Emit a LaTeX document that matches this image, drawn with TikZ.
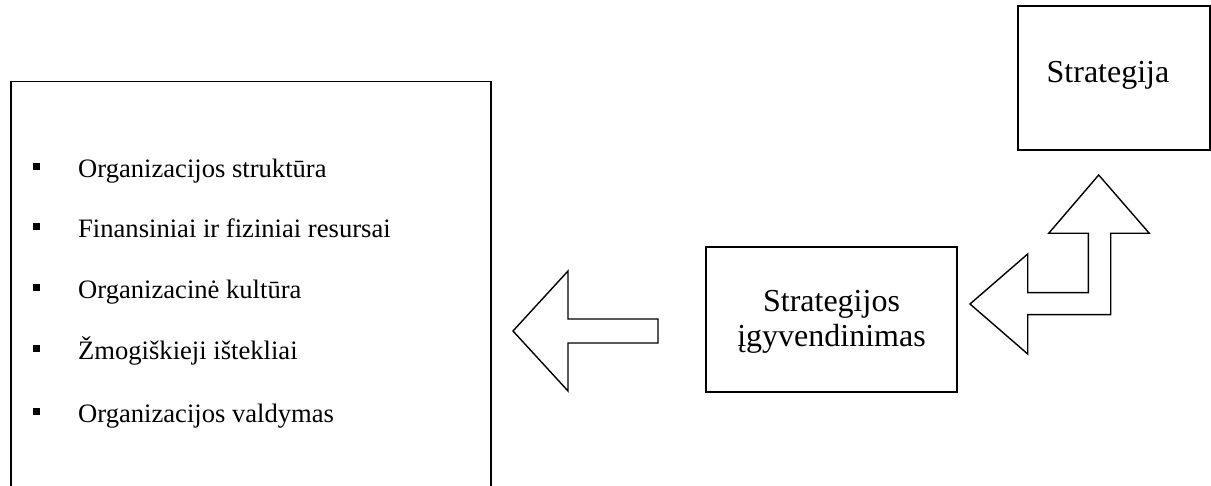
\documentclass[tikz,border=0pt]{standalone}
\usepackage{fontspec}
\setmainfont{Liberation Serif}
\begin{document}
\begin{tikzpicture}[x=1pt,y=-1pt,
  box/.style={draw=black,line width=1.5pt,rectangle,inner sep=0pt},
  arrowshape/.style={draw=black,line width=1.4pt,fill=white,line join=miter},
  bulletsq/.style={fill=black,rectangle,inner sep=0pt,minimum size=7pt},
  item/.style={anchor=base west,inner sep=0pt,font=\fontsize{26.6}{30}\selectfont},
  big/.style={font=\fontsize{32}{35}\selectfont,align=center}]
\useasboundingbox (0,0) rectangle (1211,486);
\begin{scope}
\clip (0,0) rectangle (1211,486);
% left box
\node[box,minimum width=480pt,minimum height=420pt,anchor=north west] (res) at (10,81) {};
% bullets and items
\foreach \i/\y/\t in {1/178/{Organizacijos struktūra},2/238/{Finansiniai ir fiziniai resursai},3/299/{Organizacinė kultūra},4/360/{Žmogiškieji ištekliai},5/423/{Organizacijos valdymas}}{
  \node[bulletsq] (b\i) at (36,\y-11) {};
  \node[item] (t\i) at (78,\y) {\t};
}
% implementation box
\node[box,minimum width=251pt,minimum height=145pt] (impl) at (831.5,319.5) {};
\node[big,anchor=base] (impl1) at (831.5,312) {Strategijos};
\node[big,anchor=base] (impl2) at (831.5,347) {įgyvendinimas};
% strategy box
\node[box,minimum width=192pt,minimum height=144pt] (strat) at (1114,78) {};
\node[big,anchor=base] (strat1) at (1108,83) {Strategija};
% left arrow
\draw[arrowshape] (513,331) -- (568,271) -- (568,319) -- (658,319) -- (658,343) -- (568,343) -- (568,391) -- cycle;
% bent arrow
\draw[arrowshape] (970,304) -- (1027.7,254) -- (1027.7,292.7) -- (1088.3,292.7) -- (1088.3,233.3) -- (1048.7,233.3) -- (1098.7,175) -- (1149.3,233.3) -- (1110.7,233.3) -- (1110.7,314.7) -- (1027.7,314.7) -- (1027.7,354) -- cycle;
\end{scope}
\end{tikzpicture}
\end{document}
